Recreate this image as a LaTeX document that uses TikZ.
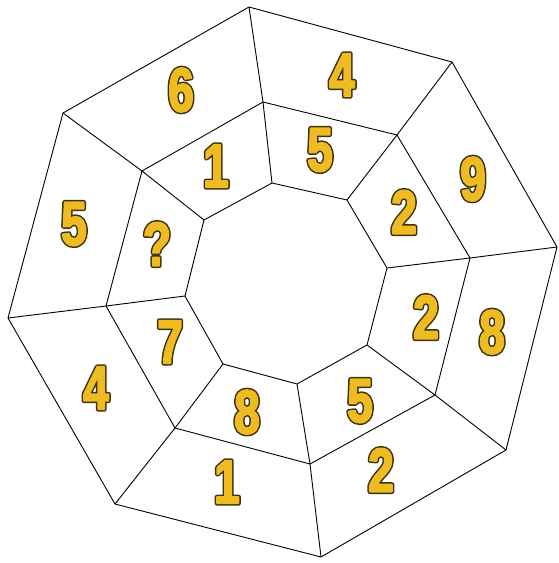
\documentclass[tikz,border=0pt]{standalone}
\usepackage{fontspec}
\newfontfamily\numfill{Liberation Sans Bold}[FakeStretch=0.74]
\definecolor{gold}{RGB}{238,188,34}
\definecolor{edgec}{RGB}{62,50,12}
\newcommand\gnum[1]{{\numfill
  \makebox[0pt]{\color{edgec}\special{pdf:code q 2 Tr 4.8 w 1 j}#1\special{pdf:code Q}}%
  \makebox[0pt]{\color{gold}\special{pdf:code q 2 Tr 1.8 w 1 j}#1\special{pdf:code Q}}}}
\begin{document}
\begin{tikzpicture}[x=1pt,y=-1pt,
  ring/.style={draw=black,line width=0.9pt,line join=round},
  num/.style={inner sep=0pt,font=\fontsize{62}{62}\selectfont}]
\useasboundingbox (0,0) rectangle (559,563);
% outer
\coordinate (O1) at (249,7);
\coordinate (O2) at (452,62);
\coordinate (O3) at (557,247);
\coordinate (O4) at (506,450);
\coordinate (O5) at (321,557);
\coordinate (O6) at (115,504);
\coordinate (O7) at (8,318);
\coordinate (O8) at (63,113);
% middle
\coordinate (M1) at (263,102);
\coordinate (M2) at (397,135);
\coordinate (M3) at (470,258);
\coordinate (M4) at (435,395);
\coordinate (M5) at (310,464);
\coordinate (M6) at (175,428);
\coordinate (M7) at (106,306);
\coordinate (M8) at (142,171);
% inner
\coordinate (I1) at (272,183);
\coordinate (I2) at (347,200);
\coordinate (I3) at (387,268);
\coordinate (I4) at (367,345);
\coordinate (I5) at (297,384);
\coordinate (I6) at (223,364);
\coordinate (I7) at (185,296);
\coordinate (I8) at (204,220);
\draw[ring] (O1)--(O2)--(O3)--(O4)--(O5)--(O6)--(O7)--(O8)--cycle;
\draw[ring] (M1)--(M2)--(M3)--(M4)--(M5)--(M6)--(M7)--(M8)--cycle;
\draw[ring] (I1)--(I2)--(I3)--(I4)--(I5)--(I6)--(I7)--(I8)--cycle;
\foreach \k in {1,...,8}{\draw[ring] (O\k)--(M\k)--(I\k);}
% outer ring numbers
\node[num] (a1) at (181,90) {\gnum{6}};
\node[num] (a2) at (342,75) {\gnum{4}};
\node[num] (a3) at (473,179) {\gnum{9}};
\node[num] (a4) at (492,332) {\gnum{8}};
\node[num] (a5) at (381,470) {\gnum{2}};
\node[num] (a6) at (227,482) {\gnum{1}};
\node[num] (a7) at (96,388) {\gnum{4}};
\node[num] (a8) at (74,224) {\gnum{5}};
% middle ring numbers
\node[num] (b1) at (216,166) {\gnum{1}};
\node[num] (b2) at (320,150) {\gnum{5}};
\node[num] (b3) at (404,212) {\gnum{2}};
\node[num] (b4) at (426,317) {\gnum{2}};
\node[num] (b5) at (360,401) {\gnum{5}};
\node[num] (b6) at (247,412) {\gnum{8}};
\node[num] (b7) at (170,342) {\gnum{7}};
\node[num] (b8) at (157,244) {\gnum{?}};
\end{tikzpicture}
\end{document}
